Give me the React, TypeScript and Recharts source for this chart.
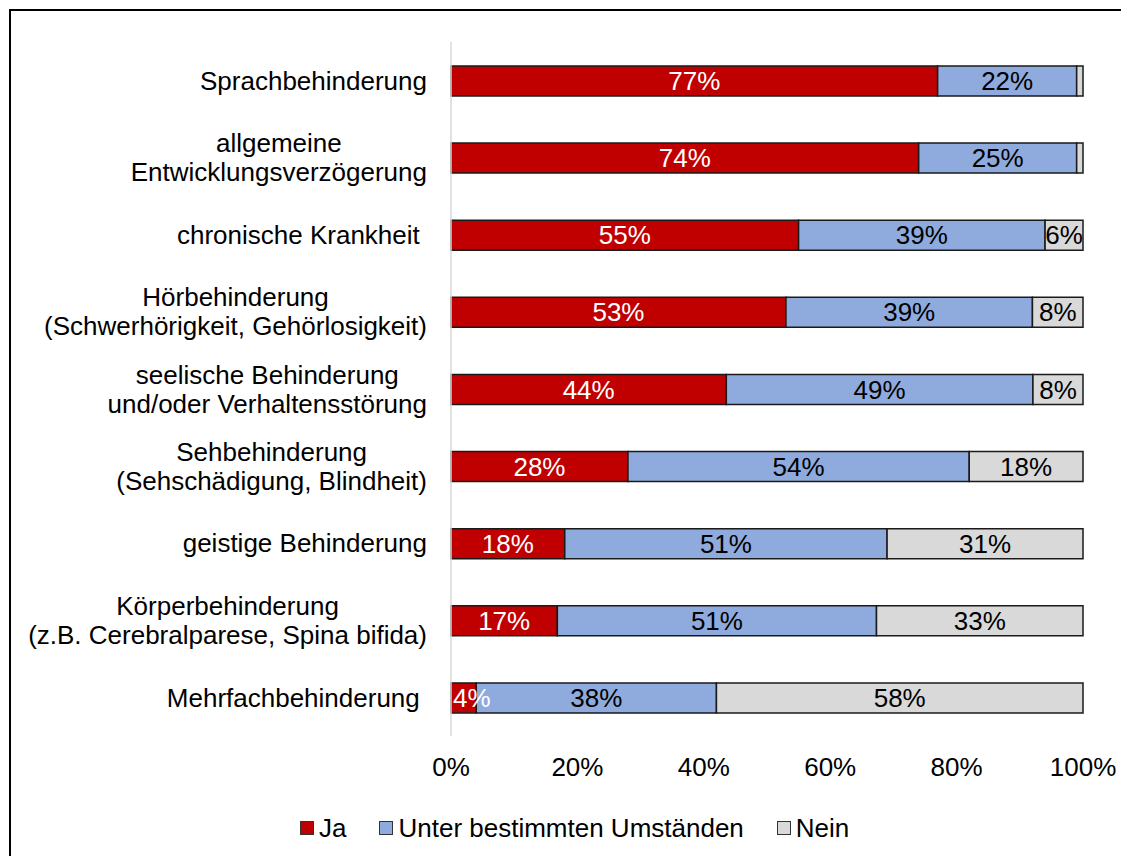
import React from 'react';
import { BarChart, Bar, XAxis, YAxis, Legend, LabelList } from 'recharts';

const categories = [
  'Sprachbehinderung',
  'allgemeine\nEntwicklungsverzögerung',
  'chronische Krankheit ',
  'Hörbehinderung\n(Schwerhörigkeit, Gehörlosigkeit)',
  'seelische Behinderung\nund/oder Verhaltensstörung',
  'Sehbehinderung\n(Sehschädigung, Blindheit)',
  'geistige Behinderung',
  'Körperbehinderung\n(z.B. Cerebralparese, Spina bifida)',
  'Mehrfachbehinderung ',
];
const ja = [77, 74, 55, 53, 44, 28, 18, 17, 4];
const unterUmstaenden = [22, 25, 39, 39, 49, 54, 51, 51, 38];
const nein = [1, 1, 6, 8, 8, 18, 31, 33, 58];
const xTicks = [0, 0.2, 0.4, 0.6, 0.8, 1];

const series = [
  { key: 'ja', name: 'Ja', color: '#C00000', labelColor: '#ffffff', values: ja },
  { key: 'unter', name: 'Unter bestimmten Umständen', color: '#8FAADC', labelColor: '#000000', values: unterUmstaenden },
  { key: 'nein', name: 'Nein', color: '#D9D9D9', labelColor: '#000000', values: nein },
];

const data = categories.map((name, i) => ({
  name,
  ja: ja[i],
  unter: unterUmstaenden[i],
  nein: nein[i],
}));

const FONT = "'Liberation Sans', Arial, sans-serif";
const FONT_SIZE = 26;

let ctx: CanvasRenderingContext2D | null = null;
const measure = (s: string) => {
  if (!ctx) {
    ctx = document.createElement('canvas').getContext('2d');
  }
  if (!ctx) return s.length * FONT_SIZE * 0.5;
  ctx.font = `${FONT_SIZE}px ${FONT}`;
  return ctx.measureText(s).width;
};

const CategoryTick = (props: any) => {
  const { x, y, payload } = props;
  const lines: string[] = String(payload.value).split('\n');
  const lineHeight = 29;
  const blockW = Math.max(...lines.map(measure));
  const cx = x - blockW / 2;
  const startY = y - ((lines.length - 1) * lineHeight) / 2;
  return (
    <g>
      {lines.map((line, i) => (
        <text
          key={i}
          x={cx - measure(line) / 2}
          y={startY + i * lineHeight}
          dy="0.35em"
          textAnchor="start"
          fontSize={FONT_SIZE}
          fontFamily={FONT}
          fill="#000"
        >
          {line.trimEnd()}
        </text>
      ))}
    </g>
  );
};

// labels that do not fit in their segment start at the segment's left edge (like Excel)
const makeLabel = (values: number[], color: string) => (props: any) => {
  const { x, y, width, height, index } = props;
  const v = values[index];
  if (v < 2) return null;
  const text = `${v}%`;
  const fits = measure(text) <= width;
  return (
    <text
      x={fits ? x + width / 2 : x + 2}
      y={y + height / 2}
      dy="0.35em"
      textAnchor={fits ? 'middle' : 'start'}
      fontSize={FONT_SIZE}
      fontFamily={FONT}
      fill={color}
    >
      {text}
    </text>
  );
};

const renderLegend = () => (
  <div style={{ display: 'flex', alignItems: 'center', paddingLeft: 300, height: 32, fontFamily: FONT, fontSize: FONT_SIZE, color: '#000' }}>
    {series.map((s, i) => (
      <div key={s.key} style={{ display: 'flex', alignItems: 'center', marginLeft: i === 0 ? 0 : 33 }}>
        <span style={{ display: 'inline-block', width: 12, height: 12, background: s.color, border: '1px solid #333', marginRight: 5 }} />
        <span>{s.name}</span>
      </div>
    ))}
  </div>
);

const App = () => {
  return (
    <div style={{ position: 'absolute', left: 0, top: 0, width: 1121, height: 856, overflow: 'hidden', background: '#fff' }}>
      {/* frame: only top and left edges are inside the picture */}
      <div style={{ position: 'absolute', left: 9, top: 9, width: 1112, height: 2, background: '#000' }} />
      <div style={{ position: 'absolute', left: 9, top: 9, width: 2, height: 847, background: '#000' }} />
      <div style={{ position: 'absolute', left: 0, top: 0 }}>
        <BarChart
          width={1121}
          height={856}
          data={data}
          layout="vertical"
          stackOffset="expand"
          barSize={30}
          margin={{ top: 42, right: 38, bottom: 12, left: 0 }}
          style={{ fontFamily: FONT }}
        >
          <XAxis
            type="number"
            domain={[0, 1]}
            ticks={xTicks}
            tickFormatter={(v: number) => `${Math.round(v * 100)}%`}
            axisLine={false}
            tickLine={false}
            tickSize={0}
            tickMargin={22}
            height={76}
            tick={{ fontSize: FONT_SIZE, fill: '#000', fontFamily: FONT }}
            interval={0}
          />
          <YAxis
            type="category"
            dataKey="name"
            width={451}
            axisLine={{ stroke: '#D9D9D9', strokeWidth: 1.5 }}
            tickLine={false}
            tickSize={0}
            tickMargin={24}
            tick={<CategoryTick />}
            interval={0}
          />
          <Legend verticalAlign="bottom" height={32} content={renderLegend} />
          {series.map((s) => (
            <Bar
              key={s.key}
              dataKey={s.key}
              name={s.name}
              stackId="a"
              fill={s.color}
              stroke="#1a1a1a"
              strokeWidth={1.5}
              isAnimationActive={false}
            >
              <LabelList dataKey={s.key} content={makeLabel(s.values, s.labelColor)} />
            </Bar>
          ))}
        </BarChart>
      </div>
      <div style={{ position: 'absolute', left: 1117, top: 11, width: 4, height: 845, background: '#fff', zIndex: 10 }} />
    </div>
  );
};

export default App;
